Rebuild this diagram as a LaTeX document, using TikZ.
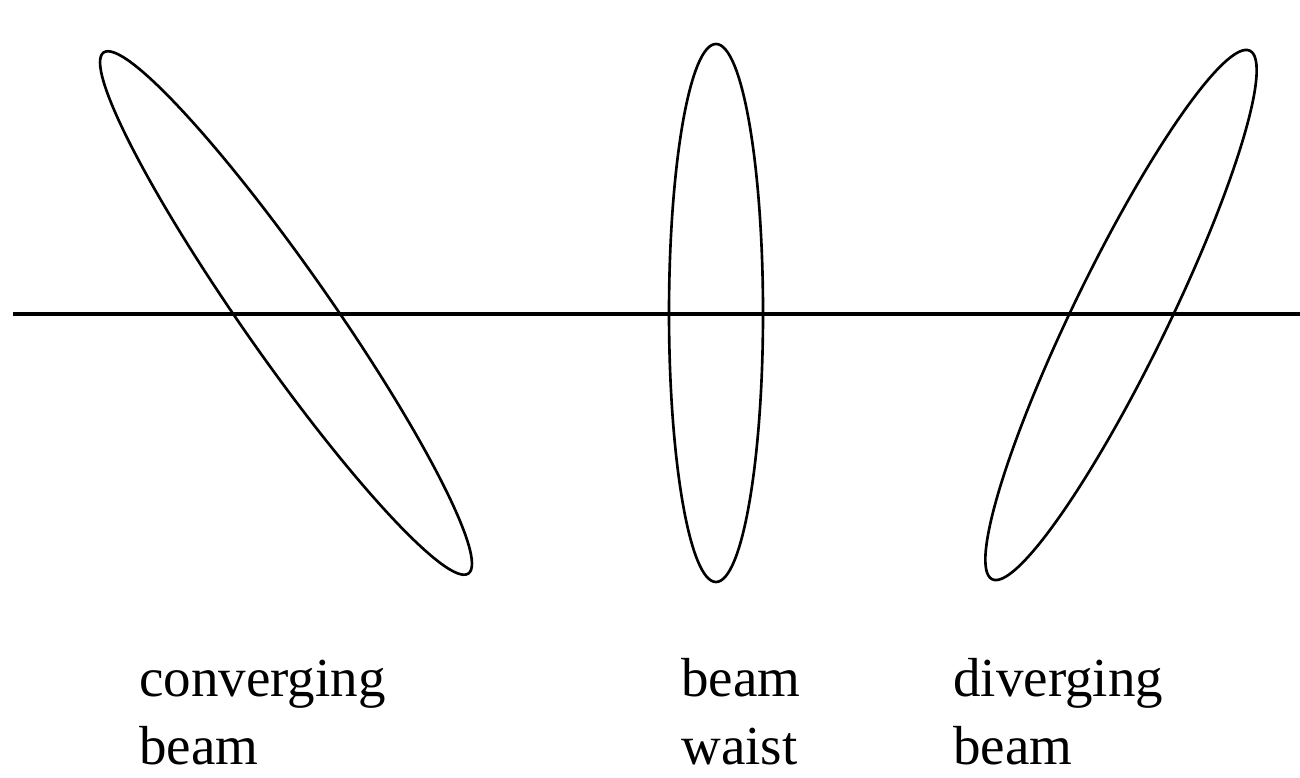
\documentclass[tikz,border=0pt]{standalone}
\usepackage{fontspec}
\setmainfont{Liberation Serif}
\usepackage{tikz}
\usetikzlibrary{positioning}

\begin{document}
\begin{tikzpicture}[
  x=0.02cm, y=0.02cm,
  every node/.style={font=\fontsize{31.3}{38.7}\selectfont},
  beamcut/.style={draw=black, line width=1.5pt},
  axis/.style={draw=black, line width=2.7pt},
  lbl/.style={anchor=base west, align=left, inner sep=0pt}
]
\useasboundingbox (0,0) rectangle (1300,777);
\coordinate (axisL) at (13,463);
\coordinate (axisR) at (1300,463);
\draw[axis] (axisL) -- (axisR);
\draw[beamcut, rotate around={-55:(286,464)}] (286,464) ellipse [x radius=318, y radius=44];
\draw[beamcut] (716,464) ellipse [x radius=47, y radius=269];
\draw[beamcut, rotate around={64:(1121,462)}] (1121,462) ellipse [x radius=294, y radius=47];
\node[lbl] (conv) at (139,13) {converging\\beam};
\node[lbl] (waist) at (681,13) {beam\\waist};
\node[lbl] (div) at (953,13) {diverging\\beam};
\end{tikzpicture}
\end{document}
